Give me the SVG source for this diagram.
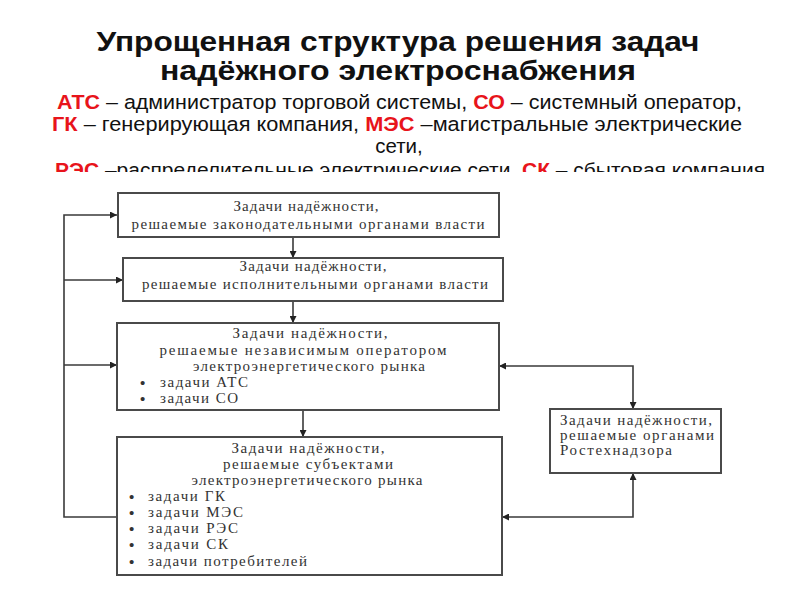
<svg xmlns="http://www.w3.org/2000/svg" width="800" height="600" viewBox="0 0 800 600">
<style>
.title{font-family:"Liberation Sans",Arial,sans-serif;font-weight:bold;font-size:27px;fill:#111;text-anchor:middle}
.leg{font-family:"Liberation Sans",Arial,sans-serif;font-size:20.5px;fill:#111}
.red{fill:#e8141b;font-weight:bold}
.box{fill:#fff;stroke:#4a4a4a;stroke-width:2}
.bt{font-family:"Liberation Serif","Times New Roman",serif;font-size:15px;fill:#333}
.bul{font-family:"Liberation Sans",Arial,sans-serif;font-size:15px;fill:#333}
.c{text-anchor:middle}
.conn{fill:none;stroke:#3a3a3a;stroke-width:1.6}
</style>
<defs>
<marker id="ah" viewBox="0 0 10 10" refX="10" refY="5" markerWidth="7" markerHeight="7" markerUnits="userSpaceOnUse" orient="auto-start-reverse">
<path d="M0,0 L10,5 L0,10 z" fill="#222"/>
</marker>
<clipPath id="clip4"><rect x="0" y="150" width="800" height="22"/></clipPath>
</defs>
<rect width="800" height="600" fill="#fff"/>
<g id="title">
<text class="title" x="398" y="51" textLength="603" lengthAdjust="spacingAndGlyphs">Упрощенная структура решения задач</text>
<text class="title" x="398" y="80" textLength="476" lengthAdjust="spacingAndGlyphs">надёжного электроснабжения</text>
</g>
<g id="legend">
<text class="leg" x="57" y="109" textLength="685" lengthAdjust="spacingAndGlyphs"><tspan class="red">АТС</tspan> – администратор торговой системы, <tspan class="red">СО</tspan> – системный оператор,</text>
<text class="leg" x="52" y="131" textLength="690" lengthAdjust="spacingAndGlyphs"><tspan class="red">ГК</tspan> –  генерирующая компания, <tspan class="red">МЭС</tspan> –магистральные электрические</text>
<text class="leg" x="399" y="153" text-anchor="middle">сети,</text>
<text class="leg" x="55" y="177" textLength="710" lengthAdjust="spacingAndGlyphs" clip-path="url(#clip4)"><tspan class="red">РЭС</tspan> –распределительные электрические сети, <tspan class="red">СК</tspan> – сбытовая компания</text>
</g>
<g id="connectors">
<path class="conn" d="M117,517 H64 V215 H117" marker-end="url(#ah)"/>
<path class="conn" d="M64,280 H123" marker-end="url(#ah)"/>
<path class="conn" d="M64,365 H117" marker-end="url(#ah)"/>
<path class="conn" d="M293,237 V258" marker-end="url(#ah)"/>
<path class="conn" d="M293,301 V323" marker-end="url(#ah)"/>
<path class="conn" d="M303,410 V437" marker-end="url(#ah)"/>
<path class="conn" d="M633,409 V366 H499" marker-start="url(#ah)" marker-end="url(#ah)"/>
<path class="conn" d="M633,473 V517 H502" marker-start="url(#ah)" marker-end="url(#ah)"/>
</g>
<g id="box1">
<rect class="box" x="118" y="193" width="381" height="44"/>
<text class="bt c" x="306" y="211" textLength="145" lengthAdjust="spacing">Задачи надёжности,</text>
<text class="bt c" x="308" y="229" textLength="353" lengthAdjust="spacing">решаемые законодательными органами власти</text>
</g>
<g id="box2">
<rect class="box" x="123" y="258" width="380" height="43"/>
<text class="bt c" x="313" y="271" textLength="147" lengthAdjust="spacing">Задачи надёжности,</text>
<text class="bt c" x="315" y="289" textLength="346" lengthAdjust="spacing">решаемые исполнительными органами власти</text>
</g>
<g id="box3">
<rect class="box" x="117" y="323" width="382" height="87"/>
<text class="bt c" x="310" y="338" textLength="155" lengthAdjust="spacing">Задачи надёжности,</text>
<text class="bt c" x="303" y="355" textLength="287" lengthAdjust="spacing">решаемые независимым оператором</text>
<text class="bt c" x="309" y="371" textLength="232" lengthAdjust="spacing">электроэнергетического рынка</text>
<text class="bul" x="140" y="388">•</text>
<text class="bt" x="160" y="387" textLength="88" lengthAdjust="spacing">задачи АТС</text>
<text class="bul" x="140" y="404">•</text>
<text class="bt" x="160" y="403" textLength="78" lengthAdjust="spacing">задачи СО</text>
</g>
<g id="box4">
<rect class="box" x="117" y="437" width="385" height="138"/>
<text class="bt c" x="308" y="453" textLength="153" lengthAdjust="spacing">Задачи надёжности,</text>
<text class="bt c" x="308" y="469" textLength="170" lengthAdjust="spacing">решаемые субъектами</text>
<text class="bt c" x="307" y="485" textLength="231" lengthAdjust="spacing">электроэнергетического рынка</text>
<text class="bul" x="129" y="502">•</text>
<text class="bt" x="148" y="501" textLength="77" lengthAdjust="spacing">задачи ГК</text>
<text class="bul" x="129" y="518">•</text>
<text class="bt" x="148" y="517" textLength="95" lengthAdjust="spacing">задачи МЭС</text>
<text class="bul" x="129" y="534">•</text>
<text class="bt" x="148" y="533" textLength="90" lengthAdjust="spacing">задачи РЭС</text>
<text class="bul" x="129" y="550">•</text>
<text class="bt" x="148" y="549" textLength="80" lengthAdjust="spacing">задачи СК</text>
<text class="bul" x="129" y="567">•</text>
<text class="bt" x="148" y="566" textLength="159" lengthAdjust="spacing">задачи потребителей</text>
</g>
<g id="box5">
<rect class="box" x="550" y="409" width="171" height="64"/>
<text class="bt" x="560" y="425" textLength="152" lengthAdjust="spacing">Задачи надёжности,</text>
<text class="bt" x="560" y="440" textLength="154" lengthAdjust="spacing">решаемые органами</text>
<text class="bt" x="560" y="455" textLength="112" lengthAdjust="spacing">Ростехнадзора</text>
</g>
</svg>
